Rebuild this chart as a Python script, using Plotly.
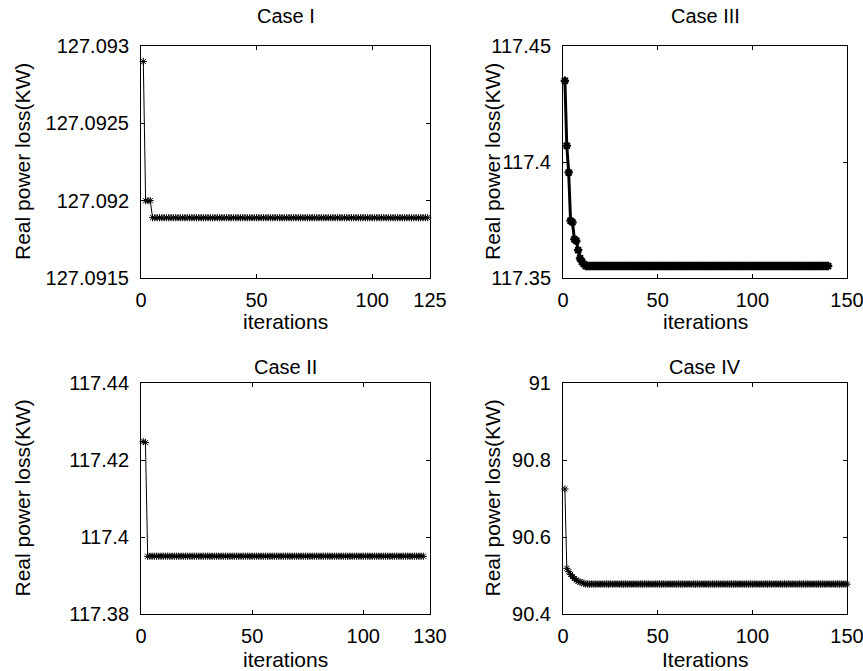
import plotly.graph_objects as go

W, H = 863, 671

# ---------------- data ----------------
case1_iter = list(range(1, 125))
case1_loss = ([127.09290, 127.09200, 127.09200, 127.09200] +
              [127.09189] * 120)

case2_iter = list(range(1, 128))
case2_loss = ([117.4248, 117.4245] +
              [117.3950] * 125)

case3_iter = list(range(1, 141))
case3_loss = ([117.4350, 117.4070, 117.3955, 117.3747, 117.3740, 117.3667,
               117.3660, 117.3620, 117.3585, 117.3570, 117.3560] +
              [117.3552] * 129)

case4_iter = list(range(1, 151))
case4_loss = ([90.7247, 90.5187, 90.5100, 90.5030, 90.4970, 90.4920,
               90.4880, 90.4850, 90.4830, 90.4810, 90.4800] +
              [90.4775, 90.4780] * 69 + [90.4775])

titles = ["Case I", "Case II", "Case III", "Case IV"]
xlabels = ["iterations", "iterations", "iterations", "Iterations"]
ylabel = "Real power loss(KW)"

x1_ticks = [0, 50, 100, 125]
y1_ticks = [127.0915, 127.092, 127.0925, 127.093]
y1_text = ["127.0915", "127.092", "127.0925", "127.093"]
x2_ticks = [0, 50, 100, 130]
y2_ticks = [117.38, 117.40, 117.42, 117.44]
y2_text = ["117.38", "117.4", "117.42", "117.44"]
x3_ticks = [0, 50, 100, 150]
y3_ticks = [117.35, 117.40, 117.45]
y3_text = ["117.35", "117.4", "117.45"]
x4_ticks = [0, 50, 100, 150]
y4_ticks = [90.4, 90.6, 90.8, 91.0]
y4_text = ["90.4", "90.6", "90.8", "91"]

# ---------------- layout geometry (pixels) ----------------
def px_x(v):
    return v / W

def px_y(v):
    return 1 - v / H

left_dom = [px_x(141), px_x(430)]
right_dom = [px_x(563), px_x(847)]
top_dom = [px_y(278), px_y(46)]
bot_dom = [px_y(614), px_y(383)]

FONT = "Liberation Sans, Arial, sans-serif"
TICK_SIZE = 20
LABEL_SIZE = 21
TITLE_SIZE = 20

fig = go.Figure()

def add_case(x, y, xa, ya, lw, msize, mlw):
    fig.add_trace(go.Scatter(
        x=x, y=y, mode="lines+markers", xaxis=xa, yaxis=ya,
        line=dict(color="black", width=lw),
        marker=dict(symbol="asterisk-open", size=msize, color="black",
                    line=dict(color="black", width=mlw)),
        showlegend=False, cliponaxis=False))

add_case(case1_iter, case1_loss, "x", "y", 1, 6, 1)
add_case(case2_iter, case2_loss, "x2", "y2", 1, 6, 1)
add_case(case3_iter, case3_loss, "x3", "y3", 3, 7, 2.2)
add_case(case4_iter, case4_loss, "x4", "y4", 1, 6, 1)

def xaxis(dom, anchor, rng, ticks):
    return dict(domain=dom, anchor=anchor, range=rng, tickvals=ticks,
                ticktext=[str(t) for t in ticks], automargin=False,
                ticklabeloverflow="allow",
                showgrid=False, zeroline=False, showline=True,
                linecolor="black", linewidth=1, mirror="ticks",
                ticks="inside", ticklen=4, tickcolor="black",
                ticklabelstandoff=4,
                tickfont=dict(family=FONT, size=TICK_SIZE, color="black"))

def yaxis(dom, anchor, rng, ticks, text):
    return dict(domain=dom, anchor=anchor, range=rng, tickvals=ticks,
                ticktext=text, automargin=False,
                ticklabeloverflow="allow",
                showgrid=False, zeroline=False, showline=True,
                linecolor="black", linewidth=1, mirror="ticks",
                ticks="inside", ticklen=4, tickcolor="black",
                ticklabelstandoff=7,
                tickfont=dict(family=FONT, size=TICK_SIZE, color="black"))

fig.update_layout(
    width=W, height=H,
    margin=dict(l=0, r=0, t=0, b=0, autoexpand=False),
    paper_bgcolor="white", plot_bgcolor="white",
    xaxis=xaxis(left_dom, "y", [0, 125], x1_ticks),
    yaxis=yaxis(top_dom, "x", [127.0915, 127.093], y1_ticks, y1_text),
    xaxis2=xaxis(left_dom, "y2", [0, 130], x2_ticks),
    yaxis2=yaxis(bot_dom, "x2", [117.38, 117.44], y2_ticks, y2_text),
    xaxis3=xaxis(right_dom, "y3", [0, 150], x3_ticks),
    yaxis3=yaxis(top_dom, "x3", [117.35, 117.45], y3_ticks, y3_text),
    xaxis4=xaxis(right_dom, "y4", [0, 150], x4_ticks),
    yaxis4=yaxis(bot_dom, "x4", [90.4, 91.0], y4_ticks, y4_text),
)

# titles / axis labels as annotations (pixel positions)
centers_x = [(141 + 430) / 2, (141 + 430) / 2, (563 + 847) / 2, (563 + 847) / 2]
title_y = [16, 367, 16, 367]
xlabel_y = [321, 659, 321, 659]
ylabel_x = [22, 22, 492, 492]
ylabel_y = [(46 + 278) / 2, (383 + 614) / 2, (46 + 278) / 2, (383 + 614) / 2]
annos = []
for i in range(4):
    annos.append(dict(text=titles[i], x=px_x(centers_x[i]), y=px_y(title_y[i]),
                      xref="paper", yref="paper",
                      xanchor="center", yanchor="middle", showarrow=False,
                      font=dict(family=FONT, size=TITLE_SIZE, color="black")))
    annos.append(dict(text=xlabels[i], x=px_x(centers_x[i]), y=px_y(xlabel_y[i]),
                      xref="paper", yref="paper",
                      xanchor="center", yanchor="middle", showarrow=False,
                      font=dict(family=FONT, size=LABEL_SIZE, color="black")))
    annos.append(dict(text=ylabel, x=px_x(ylabel_x[i]), y=px_y(ylabel_y[i]),
                      xref="paper", yref="paper", textangle=-90,
                      xanchor="center", yanchor="middle", showarrow=False,
                      font=dict(family=FONT, size=LABEL_SIZE, color="black")))
fig.update_layout(annotations=annos)

fig.write_html(
    "out.html",
    config={"displayModeBar": False},
    post_script="document.body.style.margin='0';document.body.style.overflow='hidden';",
)
